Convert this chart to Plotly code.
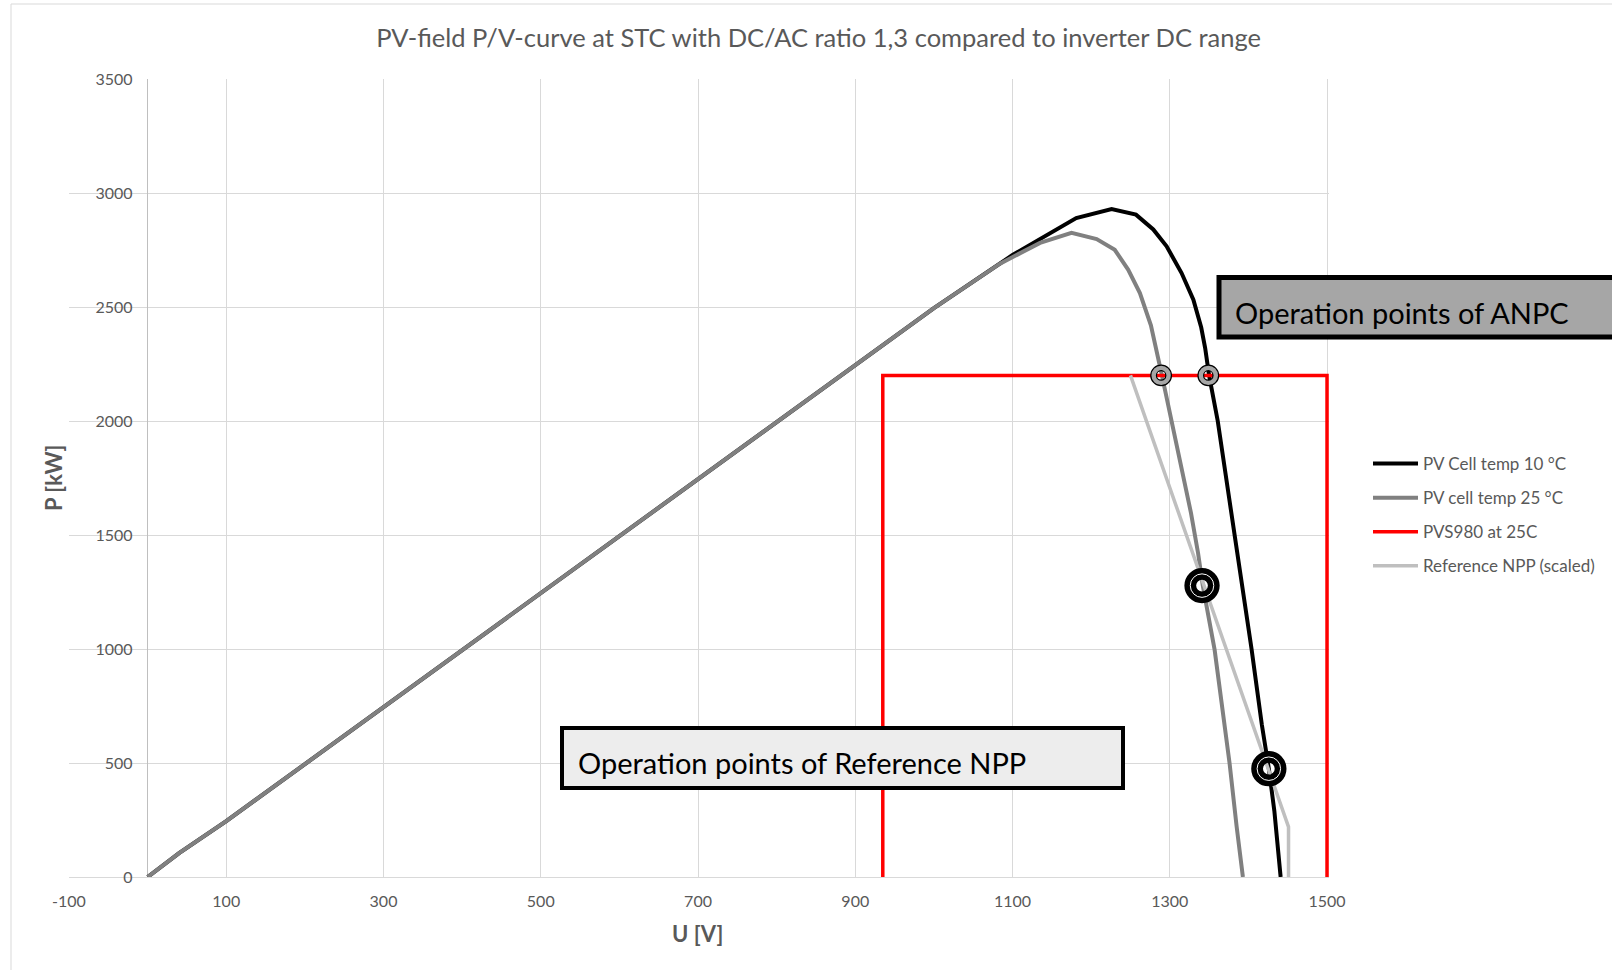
import plotly.graph_objects as go

# ---------------- data ----------------
u_10c = [0, 40, 100, 200, 300, 400, 500, 600, 700, 800, 900, 1000, 1100, 1135, 1181, 1226,
         1257, 1279, 1296, 1315, 1330, 1340, 1345, 1350, 1361, 1376, 1390, 1404, 1417, 1426, 1433, 1441]
p_10c = [0, 105, 245, 495, 745, 995, 1245, 1495, 1745, 1995, 2250, 2495, 2728, 2800, 2890, 2930,
         2905, 2840, 2766, 2649, 2532, 2410, 2320, 2200, 2000, 1650, 1330, 1000, 670, 475, 290, 0]

u_25c = [0, 40, 100, 200, 300, 400, 500, 600, 700, 800, 900, 1000, 1084, 1135, 1175, 1207, 1230,
         1247, 1262, 1276, 1290, 1303, 1315, 1327, 1336, 1342, 1357, 1376, 1385, 1393]
p_25c = [0, 105, 245, 495, 745, 995, 1245, 1495, 1745, 1995, 2250, 2495, 2690, 2781, 2825, 2798, 2751,
         2664, 2561, 2420, 2200, 1990, 1800, 1596, 1420, 1278, 997, 500, 222, 0]

u_pvs = [935, 935, 1500, 1500]
p_pvs = [0, 2200, 2200, 0]

u_ref = [1250, 1451, 1451]
p_ref = [2200, 220, 0]

u_anpc_pts = [1289, 1349]
p_anpc_pts = [2200, 2200]

u_npp_pts = [1341, 1426]
p_npp_pts = [1278, 475]

series_names = ["PV Cell temp 10 °C", "PV cell temp 25 °C", "PVS980 at 25C", "Reference NPP (scaled)"]
x_ticks = [-100, 100, 300, 500, 700, 900, 1100, 1300, 1500]
y_ticks = [0, 500, 1000, 1500, 2000, 2500, 3000, 3500]

# ---------------- layout geometry (pixels) ----------------
W, H = 1612, 970
L, R, T, B = 69, 1329, 79, 877


def px(xp):
    return (xp - L) / (R - L)


def py(yp):
    return (B - yp) / (B - T)


FONT = "Lato"
GREY_TXT = "#595959"

fig = go.Figure()

fig.add_trace(go.Scatter(x=u_10c, y=p_10c, mode="lines", name=series_names[0],
                         line=dict(color="#000000", width=4), legendgroup="a"))
fig.add_trace(go.Scatter(x=u_25c, y=p_25c, mode="lines", name=series_names[1],
                         line=dict(color="#808080", width=4), legendgroup="b"))
fig.add_trace(go.Scatter(x=u_pvs, y=p_pvs, mode="lines", name=series_names[2],
                         line=dict(color="#ff0000", width=3.5), legendgroup="c"))
fig.add_trace(go.Scatter(x=u_ref, y=p_ref, mode="lines", name=series_names[3],
                         line=dict(color="#bfbfbf", width=3.5), legendgroup="d"))

# operation point markers (ANPC)
fig.add_trace(go.Scatter(x=u_anpc_pts, y=p_anpc_pts, mode="markers", showlegend=False,
                         marker=dict(symbol="circle-open", size=15, color="#000000",
                                     line=dict(width=6.8, color="#000000"))))
fig.add_trace(go.Scatter(x=u_anpc_pts, y=p_anpc_pts, mode="markers", showlegend=False,
                         marker=dict(symbol="circle-open", size=15, color="#a6a6a6",
                                     line=dict(width=4.4, color="#a6a6a6"))))
# operation point markers (Reference NPP)
fig.add_trace(go.Scatter(x=u_npp_pts, y=p_npp_pts, mode="markers", showlegend=False,
                         marker=dict(symbol="circle-open", size=23.5, color="#000000",
                                     line=dict(width=11.8, color="#000000"))))
fig.add_trace(go.Scatter(x=u_npp_pts, y=p_npp_pts, mode="markers", showlegend=False,
                         marker=dict(symbol="circle-open", size=23.5, color="#ffffff",
                                     line=dict(width=1, color="#ffffff"))))

shapes = [
    # outer chart-area border
    dict(type="rect", xref="paper", yref="paper", x0=px(11), x1=px(1750), y0=py(4), y1=py(1100),
         line=dict(color="#d9d9d9", width=1), fillcolor="rgba(0,0,0,0)", layer="below"),
    # NPP box
    dict(type="rect", xref="paper", yref="paper", x0=px(562), x1=px(1123), y0=py(728), y1=py(788),
         line=dict(color="#000000", width=4), fillcolor="#ededed", layer="above"),
    # ANPC box
    dict(type="rect", xref="paper", yref="paper", x0=px(1219), x1=px(1750), y0=py(277.5), y1=py(337),
         line=dict(color="#000000", width=5), fillcolor="#a6a6a6", layer="above"),
]

annotations = [
    dict(text="Operation points of Reference NPP", xref="paper", yref="paper",
         x=px(576), y=py(762), xanchor="left", yanchor="middle", showarrow=False,
         font=dict(family=FONT, size=29, color="#000000")),
    dict(text="Operation points of ANPC", xref="paper", yref="paper",
         x=px(1233), y=py(312), xanchor="left", yanchor="middle", showarrow=False,
         font=dict(family=FONT, size=29, color="#000000")),
    dict(text="<b>U [V]</b>", xref="paper", yref="paper", x=px(697.5), y=py(933),
         xanchor="center", yanchor="middle", showarrow=False,
         font=dict(family=FONT, size=22, color=GREY_TXT)),
    dict(text="<b>P [kW]</b>", xref="paper", yref="paper", x=px(53), y=py(478),
         xanchor="center", yanchor="middle", showarrow=False, textangle=-90,
         font=dict(family=FONT, size=22, color=GREY_TXT)),
]

fig.update_layout(
    width=W, height=H,
    margin=dict(l=L, r=W - R, t=T, b=H - B, autoexpand=False),
    paper_bgcolor="#ffffff", plot_bgcolor="#ffffff",
    title=dict(text="PV-field P/V-curve at STC with DC/AC ratio 1,3 compared to inverter DC range",
               x=818.6 / W, xref="container", xanchor="center",
               y=1 - 38 / H, yref="container", yanchor="middle",
               font=dict(family=FONT, size=25.5, color=GREY_TXT)),
    xaxis=dict(range=[-100, 1502.5], tickmode="array", tickvals=x_ticks,
               ticktext=[str(v) for v in x_ticks],
               showgrid=True, gridcolor="#d9d9d9", gridwidth=1,
               zeroline=True, zerolinecolor="#bfbfbf", zerolinewidth=1,
               showline=False, ticks="outside", ticklen=10, tickcolor="rgba(0,0,0,0)",
               tickfont=dict(family=FONT, size=16, color=GREY_TXT), fixedrange=True),
    yaxis=dict(range=[0, 3500], tickmode="array", tickvals=y_ticks,
               ticktext=[str(v) for v in y_ticks],
               showgrid=True, gridcolor="#d9d9d9", gridwidth=1,
               zeroline=True, zerolinecolor="#d9d9d9", zerolinewidth=1,
               anchor="free", position=px(147.7), showline=False,
               ticks="outside", ticklen=12, tickcolor="rgba(0,0,0,0)",
               tickfont=dict(family=FONT, size=16, color=GREY_TXT), fixedrange=True),
    showlegend=True,
    legend=dict(x=px(1368), y=py(446), xanchor="left", yanchor="top",
                font=dict(family=FONT, size=17, color=GREY_TXT),
                bgcolor="rgba(0,0,0,0)", tracegroupgap=9, traceorder="grouped",
                itemwidth=45),
    shapes=shapes,
    annotations=annotations,
)

fig.write_html("out.html", config={"displayModeBar": False},
               post_script="document.body.style.margin='0';document.body.style.overflow='hidden';")
